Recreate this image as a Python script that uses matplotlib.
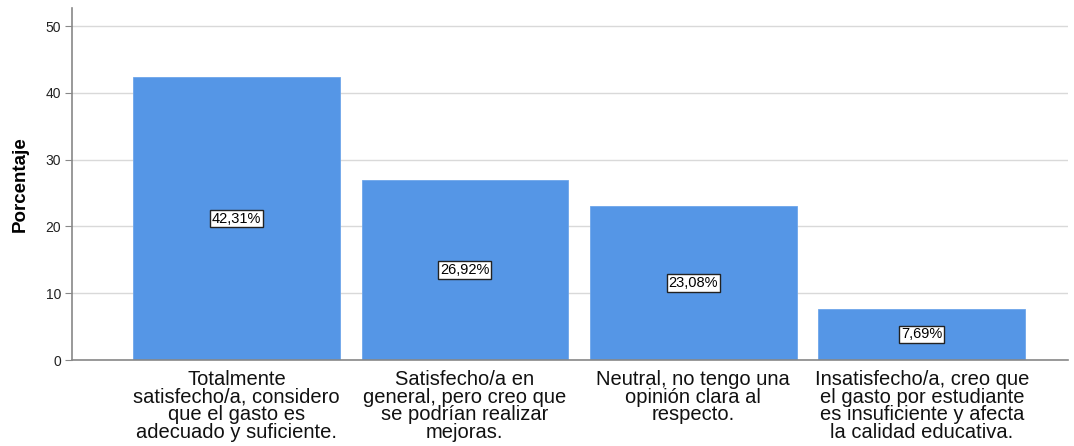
import matplotlib

matplotlib.use("Agg")
import matplotlib.pyplot as plt  # noqa: E402

plt.rcParams["font.family"] = ["Liberation Sans", "DejaVu Sans"]

categories = [
    "Totalmente\nsatisfecho/a, considero\nque el gasto es\nadecuado y suficiente.",
    "Satisfecho/a en\ngeneral, pero creo que\nse podrían realizar\nmejoras.",
    "Neutral, no tengo una\nopinión clara al\nrespecto.",
    "Insatisfecho/a, creo que\nel gasto por estudiante\nes insuficiente y afecta\nla calidad educativa.",
]
percentages = [42.31, 26.92, 23.08, 7.69]
yticks = [0, 10, 20, 30, 40, 50]

fig = plt.figure(figsize=(10.74, 4.46), dpi=100)
ax = fig.add_axes([72 / 1074, 1 - 360 / 446, (1068 - 72) / 1074, (360 - 8) / 446])

x = list(range(len(categories)))
ax.bar(x, percentages, width=0.905, color="#5596E6", edgecolor="#6ea6ea",
       linewidth=0.6, zorder=2)

for xi, v in zip(x, percentages):
    ax.text(xi, v / 2, f"{v:.2f}%".replace(".", ","), ha="center", va="center",
            fontsize=10.5, zorder=3,
            bbox=dict(boxstyle="square,pad=0.12", facecolor="white",
                      edgecolor="#222222", linewidth=1.0))

ax.set_xlim(-0.72, 3.64)
ax.set_ylim(0, 52.7)
ax.set_yticks(yticks)
ax.tick_params(axis="y", labelsize=10, length=5, color="#888888",
               labelcolor="#222222", pad=3)
ax.set_xticks(x)
ax.set_xticklabels(categories, fontsize=14.5, linespacing=0.92, color="#111111")
ax.tick_params(axis="x", length=0, pad=7)
ax.grid(axis="y", color="#d9d9d9", linewidth=1, zorder=0)
ax.set_axisbelow(True)
for side in ("top", "right"):
    ax.spines[side].set_visible(False)
for side in ("left", "bottom"):
    ax.spines[side].set_color("#888888")
    ax.spines[side].set_linewidth(1.2)
ax.set_ylabel("Porcentaje", fontsize=13.5, fontweight="bold", labelpad=12)

fig.savefig("out.png", dpi=100)
